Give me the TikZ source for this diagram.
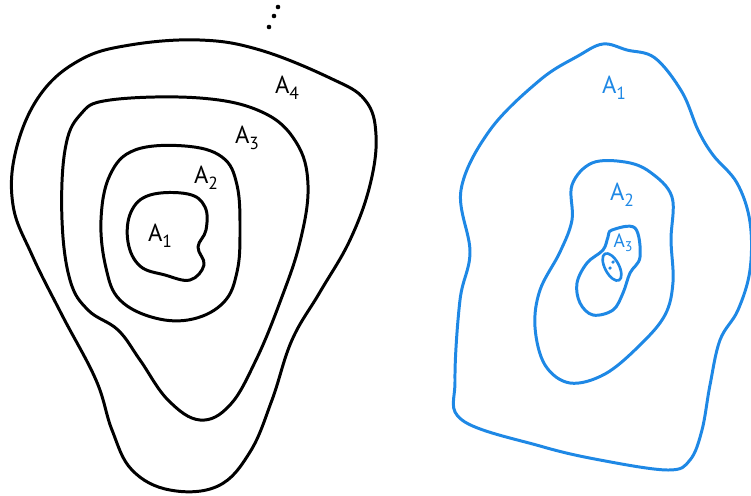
\documentclass[tikz,border=0pt]{standalone}
\usepackage{fontspec}
\setmainfont{PT Sans}
\definecolor{pblue}{RGB}{30,136,229}
\newcommand{\lab}[2]{A\raisebox{-0.45ex}{\fontsize{10}{10}\selectfont #2}}
\tikzset{
  blk/.style={draw=black, line width=1.7pt, line join=round},
  blu/.style={draw=pblue, line width=1.7pt, line join=round},
  lblk/.style={font=\fontsize{14}{14}\selectfont, text=black, inner sep=0pt},
  lblu/.style={font=\fontsize{14}{14}\selectfont, text=pblue, inner sep=0pt},
  dotk/.style={fill=black, circle, inner sep=0pt, minimum size=2.6pt},
  dotb/.style={fill=pblue, circle, inner sep=0pt, minimum size=2pt}
}
\begin{document}
\begin{tikzpicture}[x=0.02cm,y=-0.02cm]
\useasboundingbox (0,0) rectangle (751,495);
% left figure
\draw[blk] plot[smooth cycle, tension=0.65] coordinates {
 (130,45) (200,40) (260,50) (330,78) (365,100) (376,135) (370,185) (350,240) (320,292) (292,340) (272,400) (250,452) (218,486) (170,490) (132,470) (112,430) (96,380) (62,315) (32,255) (13,205) (16,150) (40,95) (80,60)};
\draw[blk] plot[smooth cycle, tension=0.65] coordinates {
 (110,100) (200,98) (262,112) (296,142) (308,185) (300,242) (280,302) (256,360) (230,405) (200,420) (168,400) (140,360) (118,330) (88,310) (70,280) (62,220) (65,150) (80,115)};
\draw[blk] plot[smooth cycle, tension=0.65] coordinates {
 (135,150) (185,146) (222,157) (237,185) (240,232) (237,272) (224,302) (193,319) (155,318) (120,300) (106,268) (101,220) (110,175)};
\draw[blk] plot[smooth cycle, tension=0.65] coordinates {
 (150,195) (188,194) (205,207) (206,230) (198,247) (204,265) (190,280) (165,275) (140,266) (128,242) (131,212)};
\node[lblk] (a4) at (287,88) {\lab{}{4}};
\node[lblk] (a3) at (247,138) {\lab{}{3}};
\node[lblk] (a2) at (206,178) {\lab{}{2}};
\node[lblk] (a1) at (160,236) {\lab{}{1}};
\node[dotk] (d1) at (269,27) {};
\node[dotk] (d2) at (274,16) {};
\node[dotk] (d3) at (278,7) {};
% right figure
\draw[blu] plot[smooth cycle, tension=0.6] coordinates {
 (603,44) (627,50) (655,58) (682,92) (698,130) (713,155) (737,183) (750,222) (750,270) (738,310) (720,340) (710,385) (702,430) (690,460) (668,470) (600,460) (540,446) (462,420) (455,380) (460,300) (470,252) (461,190) (490,130) (540,80) (578,56)};
\draw[blu] plot[smooth cycle, tension=0.6] coordinates {
 (592,163) (625,162) (650,172) (672,197) (671,240) (673,282) (665,315) (640,345) (605,374) (570,383) (545,365) (535,327) (540,290) (560,252) (572,220) (572,185)};
\draw[blu] plot[smooth cycle, tension=0.6] coordinates {
 (612,230) (635,228) (640,257) (630,273) (623,293) (613,310) (593,315) (580,303) (577,283) (587,263) (603,250) (608,237)};
\draw[blu, line width=1.5pt, rotate around={-62:(612,267)}] (612,267) ellipse [x radius=15, y radius=7];
\node[lblu] (b1) at (614,88) {\lab{}{1}};
\node[lblu] (b2) at (622,195) {\lab{}{2}};
\node[lblu, font=\fontsize{11}{11}\selectfont] (b3) at (623,243) {A\raisebox{-0.45ex}{\fontsize{8}{8}\selectfont 3}};
\node[dotb] (e1) at (613,262) {};
\node[dotb] (e2) at (610,268) {};
\end{tikzpicture}
\end{document}
